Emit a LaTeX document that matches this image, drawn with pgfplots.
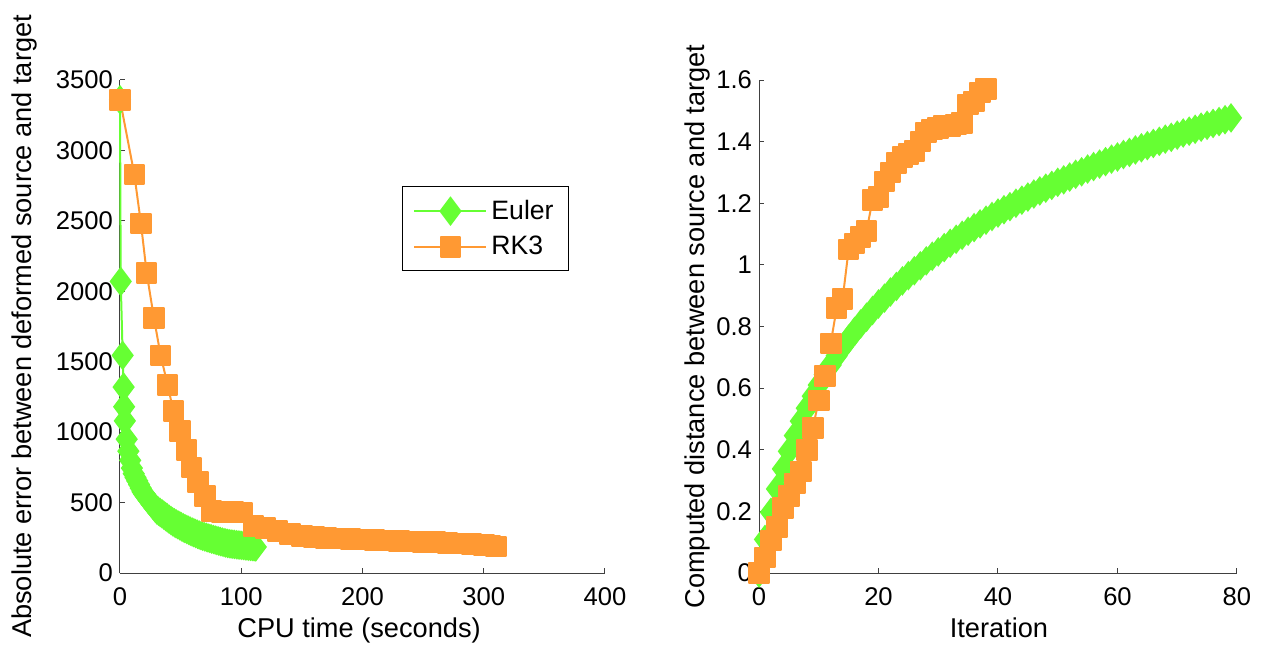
\documentclass[border=0pt]{standalone}
\usepackage{fontspec}
\setmainfont{Liberation Sans}
\usepackage{pgfplots}
\usepackage{pgfplotstable}
\pgfplotsset{compat=1.18}
\definecolor{eulergreen}{RGB}{102,255,51}
\definecolor{rkorange}{RGB}{255,153,51}
\definecolor{axgray}{RGB}{64,64,64}

\pgfplotstableread{
x y
0.0 3360
0.6 2070
2.2 1545
3.0 1320
3.4 1180
4.0 1080
5.5 950
6.9 865
8.4 800
9.8 745
11.3 705
12.8 678
14.2 654
15.7 628
17.1 603
18.6 577
20.1 558
21.5 543
23.0 526
24.4 511
25.9 495
27.4 479
28.8 463
30.3 448
31.7 439
33.2 429
34.7 420
36.1 411
37.6 401
39.0 392
40.5 382
42.0 373
43.4 364
44.9 356
46.3 349
47.8 342
49.3 335
50.7 328
52.2 321
53.6 315
55.1 309
56.6 303
58.0 297
59.5 291
60.9 286
62.4 280
63.9 275
65.3 270
66.8 265
68.2 261
69.7 257
71.2 253
72.6 249
74.1 245
75.5 241
77.0 238
78.5 234
79.9 230
81.4 227
82.8 223
84.3 220
85.8 216
87.2 213
88.7 210
90.1 208
91.6 206
93.1 204
94.5 203
96.0 201
97.4 199
98.9 198
100.4 196
101.8 195
103.3 193
104.7 192
106.2 190
107.7 189
109.1 188
110.6 186
112.0 185
}\eulerleft

\pgfplotstableread{
x y
0 3360
11.8 2830
17.3 2480
22.0 2130
28.0 1810
33.5 1545
39.3 1335
44.0 1150
49.5 1010
55.0 875
59.0 750
64.5 645
70.0 545
75.5 440
84.0 435
93.0 432
101.0 430
110.0 335
120.0 320
130.0 300
140.0 275
150.0 262
160.0 255
170.0 250
180.0 246
190.0 242
200.0 238
210.0 234
220.0 230
230.0 227
240.0 224
250.0 221
260.0 218
270.0 214
280.0 210
290.0 205
300.0 200
305.0 195
310.0 188
}\rkleft

\pgfplotstableread{
x y
0 0
1 0.109
2 0.197
3 0.273
4 0.338
5 0.395
6 0.446
7 0.493
8 0.535
9 0.574
10 0.610
11 0.644
12 0.675
13 0.705
14 0.733
15 0.759
16 0.784
17 0.808
18 0.830
19 0.852
20 0.873
21 0.892
22 0.912
23 0.930
24 0.948
25 0.965
26 0.981
27 0.997
28 1.013
29 1.028
30 1.042
31 1.056
32 1.070
33 1.083
34 1.096
35 1.109
36 1.121
37 1.133
38 1.145
39 1.157
40 1.168
41 1.179
42 1.189
43 1.200
44 1.210
45 1.220
46 1.230
47 1.240
48 1.249
49 1.258
50 1.268
51 1.276
52 1.285
53 1.294
54 1.302
55 1.311
56 1.319
57 1.327
58 1.335
59 1.343
60 1.350
61 1.358
62 1.365
63 1.373
64 1.380
65 1.387
66 1.394
67 1.401
68 1.408
69 1.414
70 1.421
71 1.428
72 1.434
73 1.440
74 1.447
75 1.453
76 1.459
77 1.465
78 1.471
79 1.477
}\eulerright

\pgfplotstableread{
x y
0 0
1 0.05
2 0.105
3 0.15
4 0.21
5 0.25
6 0.29
7 0.33
8 0.40
9 0.47
10 0.56
11 0.64
12 0.745
13 0.86
14 0.89
15 1.05
16 1.07
17 1.09
18 1.11
19 1.21
20 1.22
21 1.27
22 1.30
23 1.33
24 1.35
25 1.36
26 1.37
27 1.40
28 1.43
29 1.44
30 1.445
31 1.45
32 1.45
33 1.455
34 1.46
35 1.52
36 1.53
37 1.56
38 1.57
}\rkright

\pgfplotsset{
  mystyle/.style={
    scale only axis,
    height=246.5pt,
    axis x line=bottom, axis y line=left,
    axis line style={-, axgray, line width=0.5pt},
    tick align=inside,
    major tick length=2.5pt,
    tick style={axgray, line width=0.5pt},
    tick label style={font=\fontsize{12.8}{15}\selectfont},
    xticklabel style={yshift=-4pt},
    label style={font=\fontsize{13.6}{16}\selectfont},
    clip=false,
    legend image code/.code={\draw[mark repeat=2,mark phase=2] plot coordinates {(0pt,0pt) (18pt,0pt) (36pt,0pt)};},
  },
  eul/.style={color=eulergreen, line width=1pt, mark=diamond*, mark size=6.6pt, mark options={solid, fill=eulergreen, draw=eulergreen}},
  rk/.style={color=rkorange, line width=1pt, mark=square*, mark size=4.9pt, mark options={solid, fill=rkorange, draw=rkorange, line join=round}},
}

\begin{document}
\begin{tikzpicture}
\useasboundingbox (-60pt,-38pt) rectangle (575pt,286.5pt);
\begin{axis}[mystyle,
  width=242.5pt,
  at={(0pt,0pt)}, anchor=south west,
  xmin=0, xmax=400, ymin=0, ymax=3500,
  xtick={0,100,200,300,400}, xticklabels={0,100,200,300,400},
  ytick={0,500,1000,1500,2000,2500,3000,3500},
  yticklabels={0,500,1000,1500,2000,2500,3000,3500},
  xlabel={CPU time (seconds)},
  ylabel={Absolute error between deformed source and target},
  xlabel style={at={(axis description cs:0.493,-0.1318)}, anchor=base},
  ylabel style={at={(axis description cs:-0.196,0.5)}, anchor=center},
  legend style={at={(0.5814,0.784)}, anchor=north west, draw=black, line width=0.5pt,
    font=\fontsize{13.3}{15}\selectfont, inner xsep=5.5pt, inner ysep=4.5pt, row sep=3pt},
  legend cell align=left,
]
\addplot[eul] table {\eulerleft};
\addlegendentry{Euler}
\addplot[rk] table {\rkleft};
\addlegendentry{RK3}
\end{axis}
\begin{axis}[mystyle,
  width=239pt,
  at={(319.5pt,0pt)}, anchor=south west,
  xmin=0, xmax=80, ymin=0, ymax=1.6,
  xtick={0,20,40,60,80}, xticklabels={0,20,40,60,80},
  ytick={0,0.2,0.4,0.6,0.8,1,1.2,1.4,1.6},
  yticklabels={0,0.2,0.4,0.6,0.8,1,1.2,1.4,1.6},
  xlabel={Iteration},
  ylabel={Computed distance between source and target},
  xlabel style={at={(axis description cs:0.502,-0.1318)}, anchor=base},
  ylabel style={at={(axis description cs:-0.128,0.5)}, anchor=center},
]
\addplot[eul] table {\eulerright};
\addplot[rk] table {\rkright};
\end{axis}
\end{tikzpicture}
\end{document}
